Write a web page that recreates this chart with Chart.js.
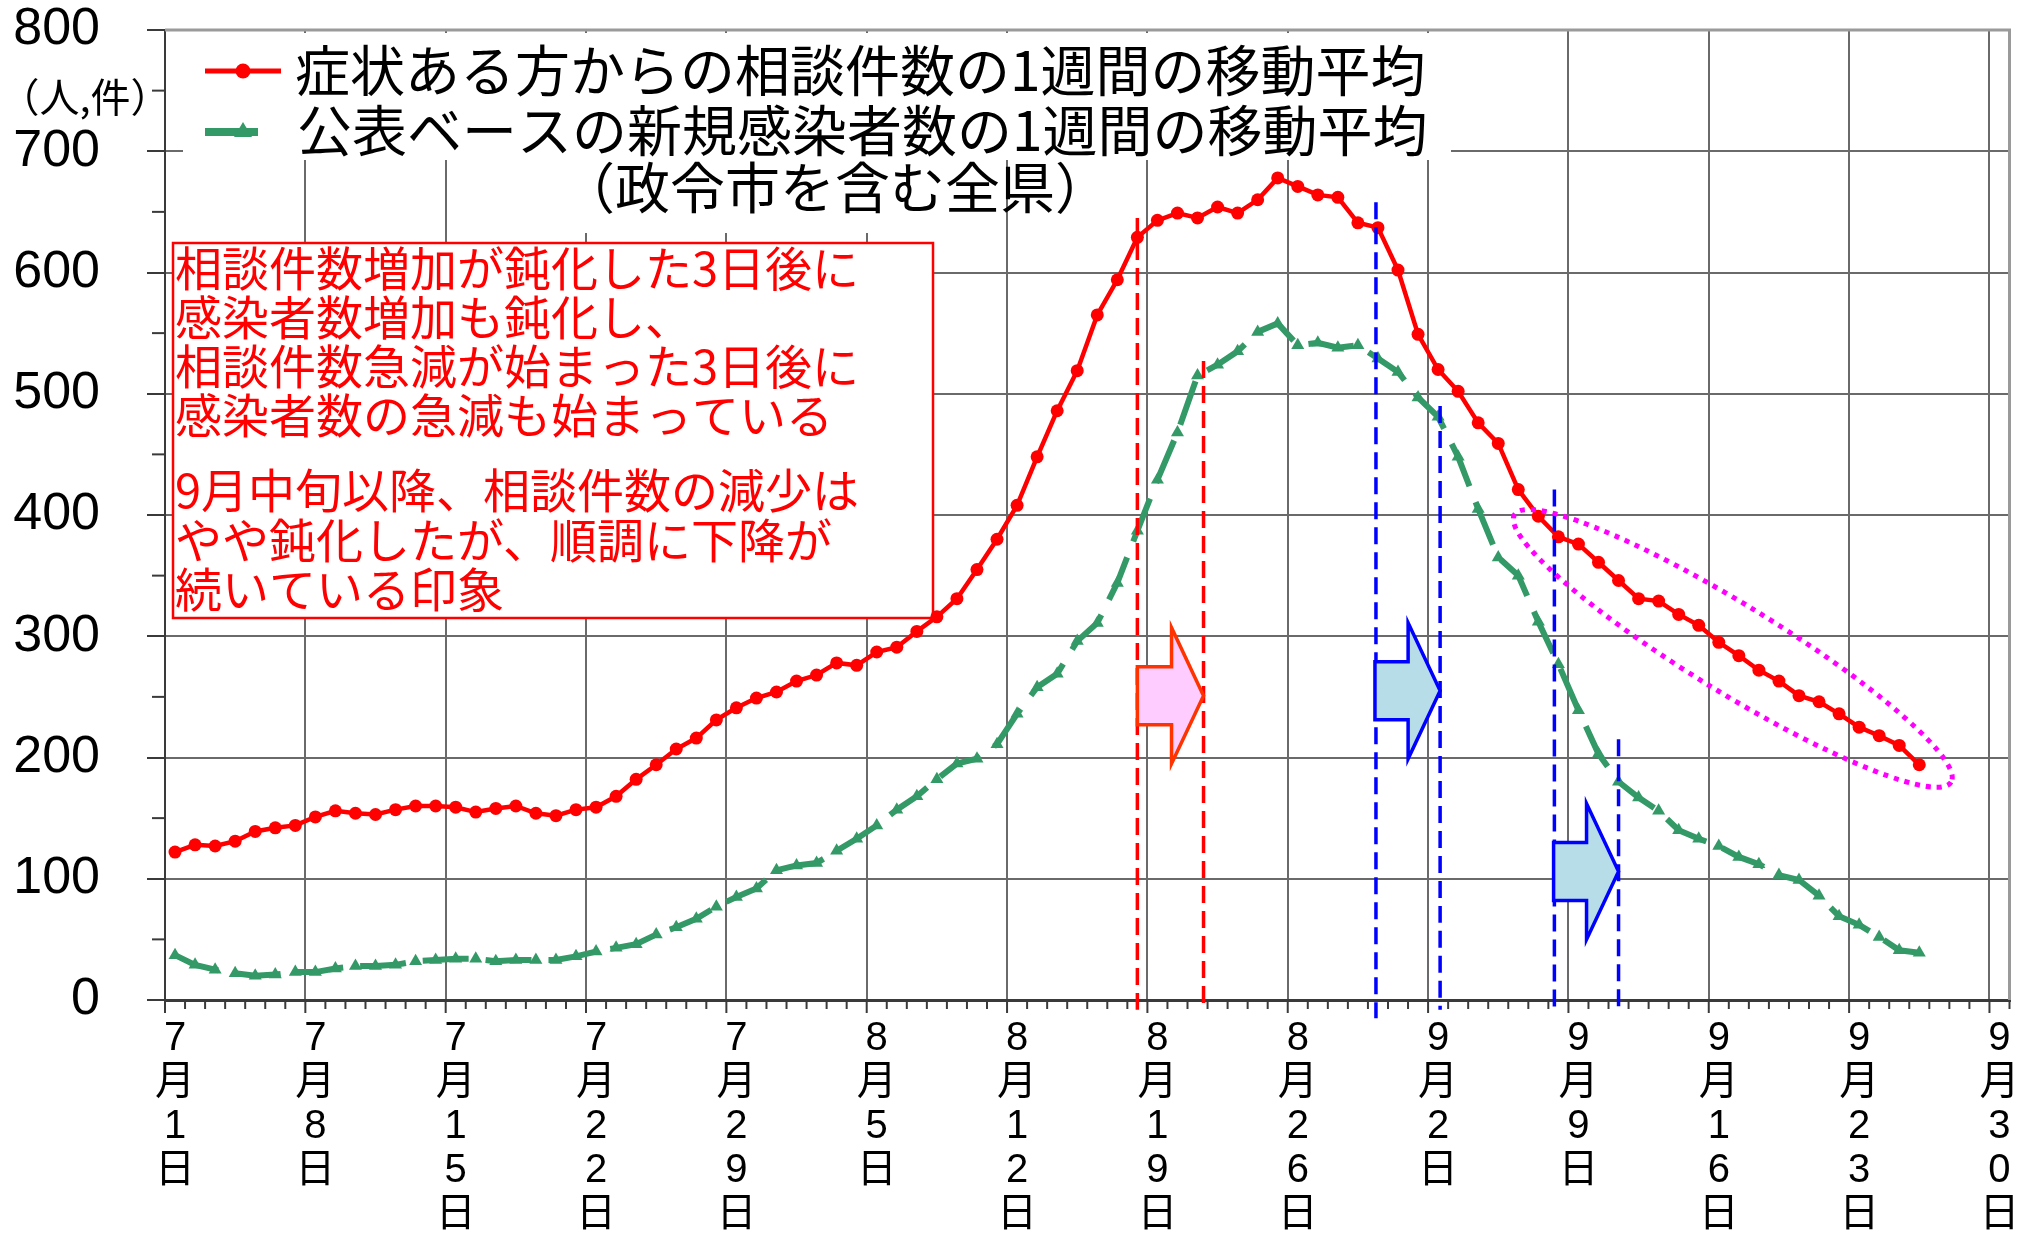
<!DOCTYPE html>
<html lang="ja">
<head>
<meta charset="utf-8">
<script src="https://cdn.jsdelivr.net/npm/chart.js@4.4.1/dist/chart.umd.min.js"></script>
<style>
  html, body { margin: 0; padding: 0; background: #fff; }
  #wrap { width: 2017px; height: 1239px; }
</style>
</head>
<body>
<div id="wrap"><canvas id="chart" width="2017" height="1239"></canvas></div>
<script>
// ---- data (7/1 - 9/26, one value per day) ----
const months = [7, 8, 9];
const monthLength = [31, 31, 30];

// 症状ある方からの相談件数の1週間の移動平均
const consults = [
  122, 128, 127, 131, 139, 142, 144, 151, 156, 154, 153, 157, 160, 160, 159, 155,
  158, 160, 154, 152, 157, 159, 168, 182, 194, 207, 216, 231, 241, 249, 254,
  263, 268, 278, 276, 287, 291, 304, 316, 331, 355, 380, 408, 448, 486, 519, 565,
  594, 629, 643, 649, 645, 654, 649, 660, 678, 671, 664, 662, 641, 637, 602,
  549, 520, 502, 476, 459, 421, 399, 382, 376, 361, 346, 331, 329, 318, 309, 295,
  284, 272, 263, 251, 246, 236, 225, 218, 210, 194
];

// 公表ベースの新規感染者数の1週間の移動平均
const cases = [
  37, 29, 25, 22, 20, 21, 23, 23, 26, 28, 28, 29, 32, 33, 34, 34,
  32, 33, 33, 33, 36, 40, 43, 46, 54, 60, 67, 77, 85, 92, 107,
  111, 113, 123, 133, 144, 157, 168, 182, 195, 199, 211, 236, 258, 269, 296, 311,
  344, 387, 429, 468, 515, 524, 535, 551, 558, 540, 542, 538, 540, 529, 518,
  497, 481, 448, 405, 365, 350, 312, 277, 239, 203, 180, 167, 156, 140, 133, 127,
  118, 112, 103, 99, 86, 69, 62, 52, 41, 39
];

const legendTexts = [
  '症状ある方からの相談件数の1週間の移動平均',
  '公表ベースの新規感染者数の1週間の移動平均',
  '（政令市を含む全県）'
];
const noteLines = [
  '相談件数増加が鈍化した3日後に',
  '感染者数増加も鈍化し、',
  '相談件数急減が始まった3日後に',
  '感染者数の急減も始まっている',
  '9月中旬以降、相談件数の減少は',
  'やや鈍化したが、順調に下降が',
  '続いている印象'
];
const unitText = '（人,件）';

// category labels: every day from 7/1 to 9/30
let dayMonth = [];
let dayDate = [];
months.forEach((m, i) => {
  for (let d = 1; d <= monthLength[i]; d++) { dayMonth.push(m); dayDate.push(d); }
});
const dayLabels = dayMonth.map((m, i) => m + '月' + dayDate[i] + '日');

// ---- annotations (x = day index, y = value) ----
const guideLines = [
  {at: 48.0, top: 645, bottom: -8, color: '#ff0000'},
  {at: 51.3, top: 527, bottom: -8, color: '#ff0000'},
  {at: 59.9, top: 658, bottom: -15, color: '#0000ff'},
  {at: 63.1, top: 490, bottom: -8, color: '#0000ff'},
  {at: 68.8, top: 421, bottom: -8, color: '#0000ff'},
  {at: 72.0, top: 215, bottom: -6, color: '#0000ff'}
];
const shiftArrows = [
  {from: 48.0, to: 51.3, at: 251, fill: '#ffccff', edge: '#ff3300'},
  {from: 59.85, to: 63.1, at: 255, fill: '#b7dee8', edge: '#0000ff'},
  {from: 68.76, to: 72.0, at: 106, fill: '#b7dee8', edge: '#0000ff'}
];
const ring = {at: 77.7, value: 290, rx: 256, ry: 44, angle: 31.5};

const CJK = '"Noto Sans CJK JP"';
const GREEN = '#339966';

function blockArrow(ctx, x0, x1, yc, fill, edge) {
  const shaft = 29, head = 68, headLen = 32;
  const xb = x1 - headLen;
  ctx.beginPath();
  ctx.moveTo(x0, yc - shaft);
  ctx.lineTo(xb, yc - shaft);
  ctx.lineTo(xb, yc - head);
  ctx.lineTo(x1, yc);
  ctx.lineTo(xb, yc + head);
  ctx.lineTo(xb, yc + shaft);
  ctx.lineTo(x0, yc + shaft);
  ctx.closePath();
  ctx.fillStyle = fill;
  ctx.fill();
  ctx.lineWidth = 3.5;
  ctx.lineJoin = 'miter';
  ctx.strokeStyle = edge;
  ctx.stroke();
}

const decor = {
  id: 'decor',
  beforeDatasetsDraw(chart) {
    const ctx = chart.ctx;
    const area = chart.chartArea;
    const ys = chart.scales.y;
    ctx.save();
    // legend / note backgrounds
    ctx.fillStyle = '#fff';
    ctx.fillRect(183, 33, 1268, 127);
    ctx.fillRect(550, 160, 450, 73);
    ctx.fillRect(173, 243, 760, 375);
    ctx.strokeStyle = '#ff0000';
    ctx.lineWidth = 2.5;
    ctx.strokeRect(173, 243, 760, 375);

    // minor y ticks
    ctx.strokeStyle = '#3a3a3a';
    ctx.lineWidth = 2;
    for (let v = 50; v < 800; v += 100) {
      const y = ys.getPixelForValue(v);
      ctx.beginPath(); ctx.moveTo(152, y); ctx.lineTo(area.left, y); ctx.stroke();
    }
    // day ticks below x axis
    const n = dayLabels.length;
    const w = (area.right - area.left) / n;
    for (let k = 0; k <= n; k++) {
      const x = area.left + k * w;
      ctx.beginPath();
      ctx.moveTo(x, area.bottom);
      ctx.lineTo(x, area.bottom + (k % 7 === 0 ? 13 : 9));
      ctx.stroke();
    }
    ctx.restore();
  },
  afterDatasetsDraw(chart) {
    const ctx = chart.ctx;
    const area = chart.chartArea;
    const xs = chart.scales.x, ys = chart.scales.y;
    ctx.save();

    // vertical guide lines
    ctx.lineWidth = 3.5;
    ctx.setLineDash([17, 8]);
    guideLines.forEach(g => {
      const x = xs.getPixelForValue(g.at);
      ctx.strokeStyle = g.color;
      ctx.beginPath();
      ctx.moveTo(x, ys.getPixelForValue(g.top));
      ctx.lineTo(x, ys.getPixelForValue(g.bottom));
      ctx.stroke();
    });
    ctx.setLineDash([]);

    // arrows
    shiftArrows.forEach(a => {
      blockArrow(ctx, xs.getPixelForValue(a.from), xs.getPixelForValue(a.to),
                 ys.getPixelForValue(a.at), a.fill, a.edge);
    });

    // dotted ellipse
    ctx.strokeStyle = '#ff00ff';
    ctx.lineWidth = 5;
    ctx.setLineDash([5, 6]);
    ctx.beginPath();
    ctx.ellipse(xs.getPixelForValue(ring.at), ys.getPixelForValue(ring.value),
                ring.rx, ring.ry, ring.angle * Math.PI / 180, 0, Math.PI * 2);
    ctx.stroke();
    ctx.setLineDash([]);

    // legend samples
    ctx.strokeStyle = '#ff0000';
    ctx.lineWidth = 5;
    ctx.beginPath(); ctx.moveTo(205, 71); ctx.lineTo(281, 71); ctx.stroke();
    ctx.fillStyle = '#ff0000';
    ctx.beginPath(); ctx.arc(243, 71, 7.5, 0, Math.PI * 2); ctx.fill();
    ctx.strokeStyle = GREEN;
    ctx.lineWidth = 8;
    ctx.beginPath(); ctx.moveTo(205, 132); ctx.lineTo(258, 132); ctx.stroke();
    ctx.fillStyle = GREEN;
    ctx.beginPath();
    ctx.moveTo(243, 122); ctx.lineTo(252, 137); ctx.lineTo(234, 137); ctx.closePath(); ctx.fill();

    // legend text
    ctx.fillStyle = '#000';
    ctx.textBaseline = 'middle';
    ctx.textAlign = 'left';
    ctx.font = '55px ' + CJK;
    ctx.fillText(legendTexts[0], 295, 70);
    ctx.fillText(legendTexts[1], 297, 130);
    ctx.fillText(legendTexts[2], 560, 187);

    // note text
    ctx.fillStyle = '#ff0000';
    ctx.font = '47px ' + CJK;
    const noteY = [268, 317, 366, 415, 490, 540, 589];
    noteLines.forEach((t, i) => ctx.fillText(t, 175, noteY[i]));

    // unit label
    ctx.fillStyle = '#000';
    ctx.font = '40px ' + CJK;
    ctx.textAlign = 'center';
    ctx.fillText(unitText, 85, 97);

    // top and right frame
    ctx.strokeStyle = '#9a9a9a';
    ctx.lineWidth = 3;
    ctx.beginPath();
    ctx.moveTo(area.left, area.top);
    ctx.lineTo(area.right, area.top);
    ctx.lineTo(area.right, area.bottom);
    ctx.stroke();
    ctx.restore();
  }
};

const ctx = document.getElementById('chart').getContext('2d');
const chart = new Chart(ctx, {
  type: 'line',
  data: {
    labels: dayLabels,
    datasets: [{
      label: legendTexts[0],
      data: consults,
      borderColor: '#ff0000',
      backgroundColor: '#ff0000',
      borderWidth: 4.5,
      pointStyle: 'circle',
      pointRadius: 6.5,
      pointBorderWidth: 0,
      tension: 0
    }, {
      label: legendTexts[1],
      data: cases,
      borderColor: GREEN,
      backgroundColor: GREEN,
      borderWidth: 6,
      borderDash: [46, 17],
      pointStyle: 'triangle',
      pointRadius: 7.5,
      pointBorderWidth: 0,
      tension: 0
    }]
  },
  options: {
    responsive: false,
    animation: false,
    devicePixelRatio: 1,
    layout: {padding: {top: 30, right: 5, left: 0, bottom: 0}},
    plugins: {legend: {display: false}, tooltip: {enabled: false}},
    scales: {
      x: {
        type: 'category',
        offset: true,
        grid: {
          offset: true,
          drawTicks: false,
          lineWidth: 2,
          color: c => (c.index !== undefined && c.index > 0 && c.index % 7 === 0) ? '#6a6a6a' : 'rgba(0,0,0,0)'
        },
        border: {display: true, color: '#3a3a3a', width: 3},
        ticks: {
          autoSkip: false,
          maxRotation: 0,
          minRotation: 0,
          padding: 17,
          color: '#000',
          font: {size: 40, family: '"Liberation Sans", ' + CJK, lineHeight: 44 / 40},
          callback: (v, i) => i % 7 === 0
            ? [...String(dayMonth[i]), '月', ...String(dayDate[i]), '日']
            : ''
        },
        afterFit: s => {
          s.height = 239;
          s.paddingLeft = 0; s.paddingRight = 0; s.paddingTop = 0; s.paddingBottom = 0;
        }
      },
      y: {
        min: 0,
        max: 800,
        ticks: {
          stepSize: 100,
          padding: 47,
          color: '#000',
          font: {size: 52, family: '"Liberation Sans"', lineHeight: 1}
        },
        grid: {color: '#6a6a6a', lineWidth: 2, tickLength: 18, tickColor: '#3a3a3a', tickWidth: 2},
        border: {color: '#3a3a3a', width: 2},
        afterFit: s => {
          s.width = 165;
          s.paddingLeft = 0; s.paddingRight = 0; s.paddingTop = 0; s.paddingBottom = 0;
        }
      }
    }
  },
  plugins: [decor]
});
</script>
</body>
</html>
